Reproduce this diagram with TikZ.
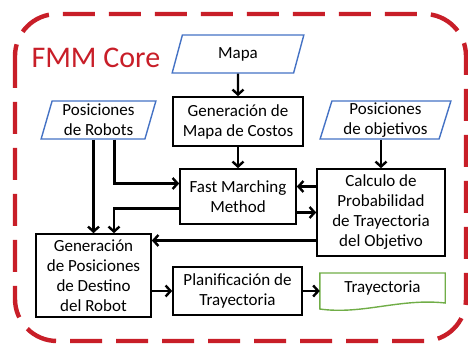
\documentclass[tikz,border=0pt]{standalone}
\usepackage{fontspec}
\setmainfont{Carlito}
\usetikzlibrary{shapes.geometric,arrows.meta}
\definecolor{rojo}{RGB}{200,30,40}
\definecolor{azul}{RGB}{68,114,196}
\definecolor{verde}{RGB}{112,173,71}
\tikzset{
	caja/.style={draw=black, line width=1.6pt, fill=white, align=center, inner sep=0pt,
		font=\fontsize{17}{20}\selectfont},
	entrada/.style={trapezium, trapezium left angle=75, trapezium right angle=105,
		trapezium stretches=true, draw=azul, line width=1.4pt, align=center, inner sep=0pt,
		minimum height=38pt, font=\fontsize{17}{20}\selectfont},
	flecha/.style={draw=black, line width=2.4pt, -{Straight Barb[length=5pt,width=11pt]}}
}
\begin{document}
\begin{tikzpicture}[x=1pt, y=-1pt]
		\useasboundingbox (0, 0) rectangle (468, 344);
		\draw[rojo, line width=4.4pt, rounded corners=42pt, dash pattern=on 32pt off 14pt]
			(15, 14) rectangle (466, 341);
		\node[text=rojo, font=\fontsize{30}{30}\selectfont, anchor=base west] (core) at (28, 68) {FMM Core};
		% entradas
		\node[entrada, minimum width=132pt] (mapa) at (238, 54) {Mapa};
		\node[entrada, minimum width=115pt] (robots) at (98.5, 120) {Posiciones\\de Robots};
		\node[entrada, minimum width=131pt] (objetivos) at (385.5, 120) {Posiciones\\de objetivos};
		% procesos
		\node[caja, minimum width=130pt, minimum height=49pt] (costos) at (238, 121.5) {Generación de\\Mapa de Costos};
		\node[caja, minimum width=116pt, minimum height=55pt] (fmm) at (238, 196.5) {Fast Marching\\Method};
		\node[caja, minimum width=128pt, minimum height=87pt] (calculo) at (381, 212.5) {Calculo de\\Probabilidad\\de Trayectoria\\del Objetivo};
		\node[caja, minimum width=115pt, minimum height=83pt] (destino) at (93.5, 275.5) {Generación\\de Posiciones\\de Destino\\del Robot};
		\node[caja, minimum width=129pt, minimum height=48pt] (plan) at (237.5, 291) {Planificación de\\Trayectoria};
		% salida
		\node[inner sep=0pt, minimum width=125pt, minimum height=30pt, font=\fontsize{17}{20}\selectfont] (tray) at (382.5, 288) {Trayectoria};
		\draw[verde, line width=1.4pt] (tray.west |- 0, 273) -- (tray.east |- 0, 273) -- (tray.east |- 0, 303)
			.. controls (400, 298) and (362, 315) .. (tray.west |- 0, 309) -- cycle;
		% conexiones
		\draw[flecha] (mapa) -- (costos);
		\draw[flecha] (costos) -- (fmm);
		\draw[flecha] (calculo.north |- objetivos.south) -- (calculo.north);
		\draw[flecha] (destino.north |- robots.south) -- (destino.north);
		\draw[flecha] ([xshift=16pt]robots.south) |- ([yshift=13pt]fmm.west);
		\draw[flecha] ([yshift=-12pt]fmm.west) -| ([xshift=20.5pt]destino.north);
		\draw[flecha] ([yshift=10pt]fmm.east -| calculo.west) -- ([yshift=10pt]fmm.east);
		\draw[flecha] ([yshift=-16pt]fmm.east) -- ([yshift=-16pt]fmm.east -| calculo.west);
		\draw[flecha] ([yshift=35pt]destino.east -| calculo.west) -- ([yshift=35pt]destino.east);
		\draw[flecha] (destino.east |- plan.west) -- (plan.west);
		\draw[flecha] (plan) -- (tray.west |- plan.east);
	\end{tikzpicture}
\end{document}
